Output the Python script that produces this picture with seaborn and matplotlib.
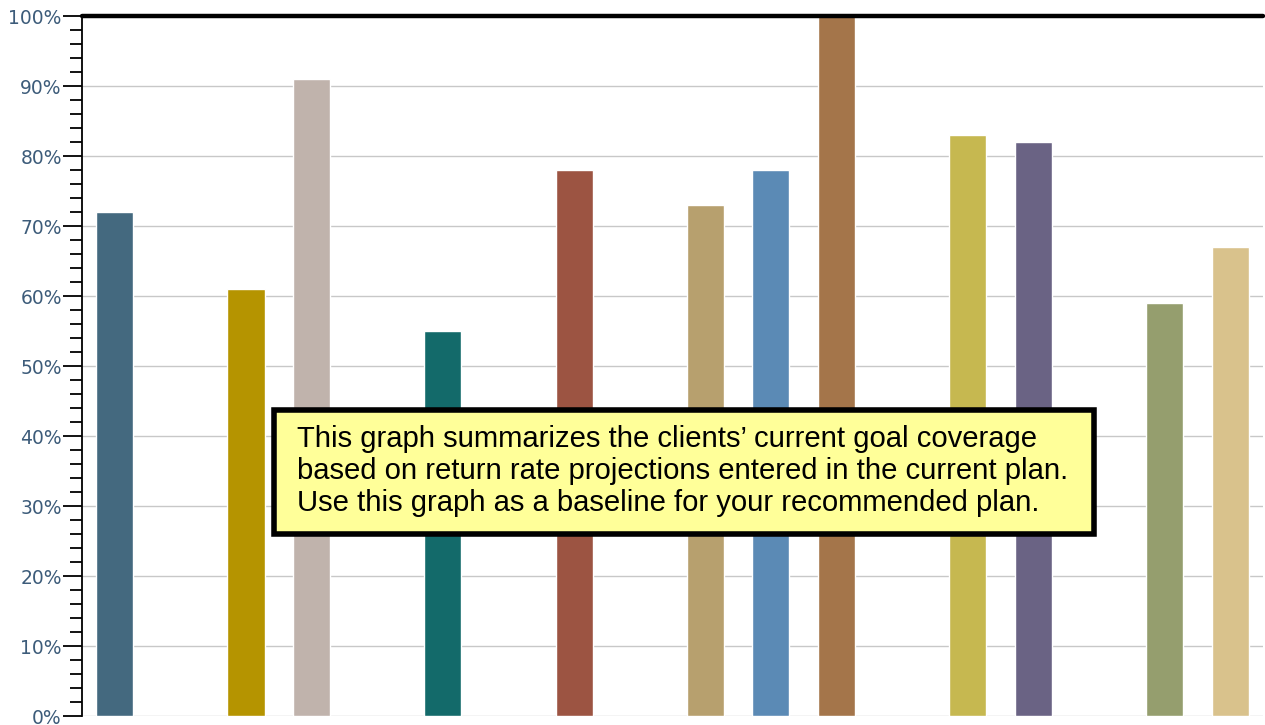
import matplotlib
matplotlib.use("Agg")
import matplotlib.pyplot as plt
from matplotlib.ticker import MultipleLocator, PercentFormatter
import numpy as np
import pandas as pd
import seaborn as sns

# Goal slots along the x axis (empty slots separate goal groups)
slots = ["G1", "s1", "G2", "G3", "s2", "G4", "s3", "G5", "s4",
         "G6", "G7", "G8", "s5", "G9", "G10", "s6", "G11", "G12"]
coverage = [72, None, 61, 91, None, 55, None, 78, None,
            73, 78, 100, None, 83, 82, None, 59, 67]
bar_colors = ["#44697F", None, "#B59400", "#C0B3AC", None, "#136A6A", None,
              "#9C5442", None, "#B7A06E", "#5B8AB5", "#A4754A", None,
              "#C6B850", "#6A6384", None, "#959E6E", "#D9C28C"]

tick_values = list(range(0, 101, 10))
note = ("This graph summarizes the clients\u2019 current goal coverage\n"
        "based on return rate projections entered in the current plan.\n"
        "Use this graph as a baseline for your recommended plan.")

df = pd.DataFrame({"slot": slots, "coverage": coverage, "color": bar_colors}).dropna()
palette = dict(zip(df["slot"], df["color"]))

sns.set_theme(style="white")
fig = plt.figure(figsize=(12.65, 7.25), dpi=100)
ax = fig.add_axes([82 / 1265, 9 / 725, 1181 / 1265, 700 / 725])

ax.yaxis.grid(True, color="#C8C8C8", linewidth=1)
ax.set_axisbelow(True)

sns.barplot(data=df, x="slot", y="coverage", hue="slot", order=slots,
            palette=palette, width=0.565, saturation=1, legend=False, ax=ax)

ax.set_ylim(0, 100)
ax.set_xlim(-0.5, len(slots) - 0.5)
ax.set_yticks(tick_values)
ax.yaxis.set_minor_locator(MultipleLocator(2))
ax.yaxis.set_major_formatter(PercentFormatter(decimals=0))
ax.tick_params(axis="y", which="major", length=14, width=1.3, color="black",
               labelsize=13.5, labelcolor="#3D5C7A", pad=0.5, left=True)
ax.tick_params(axis="y", which="minor", length=9, width=1.3, color="black", left=True)
ax.set_xticks([])
ax.set_xlabel("")
ax.set_ylabel("")

for side in ["top", "right", "bottom"]:
    ax.spines[side].set_visible(False)
ax.spines["left"].set_color("black")
ax.spines["left"].set_linewidth(1.3)

# full-coverage reference line
ax.axhline(100, color="black", linewidth=3.2, clip_on=False, zorder=5)

for lbl in ax.get_yticklabels():
    lbl.set_family(["DejaVu Sans"])

# explanatory note in a yellow box
box = plt.Rectangle((274 / 1265, (725 - 534) / 725), (1094 - 274) / 1265,
                    (534 - 410) / 725, transform=fig.transFigure,
                    facecolor="#FFFF99", edgecolor="black", linewidth=4, zorder=9)
fig.patches.append(box)
fig.text(297 / 1265, (725 - 471) / 725, note, ha="left", va="center",
         fontsize=21.1, family=["Liberation Sans", "DejaVu Sans"], color="black",
         linespacing=1.17, zorder=10)

fig.savefig("out.png", dpi=100)
